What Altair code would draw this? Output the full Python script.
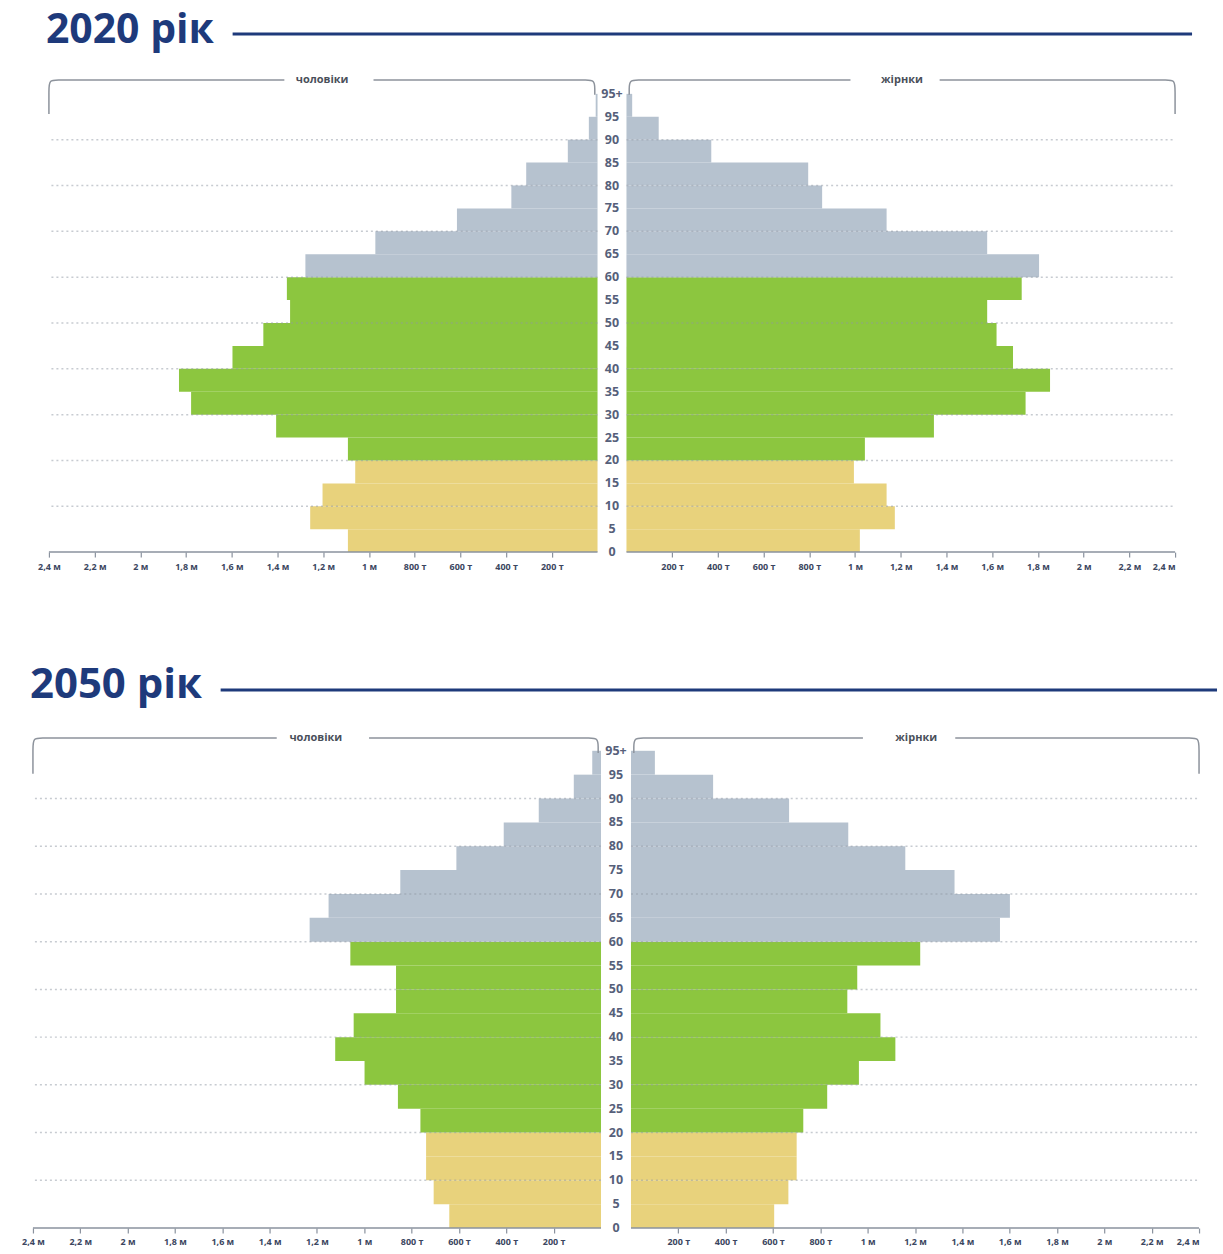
import altair as alt
import pandas as pd

# ---------------- data ----------------
age_starts = [0, 5, 10, 15, 20, 25, 30, 35, 40, 45, 50, 55, 60, 65, 70, 75, 80, 85, 90, 95]
age_label_pos = [0, 5, 10, 15, 20, 25, 30, 35, 40, 45, 50, 55, 60, 65, 70, 75, 80, 85, 90, 95, 100]
age_labels = ["0", "5", "10", "15", "20", "25", "30", "35", "40", "45", "50", "55",
              "60", "65", "70", "75", "80", "85", "90", "95", "95+"]

# population, millions (чоловіки = men, жірнки = women)
men_2020 = [1.092, 1.257, 1.203, 1.060, 1.092, 1.406, 1.778, 1.831, 1.597, 1.462,
            1.345, 1.359, 1.278, 0.972, 0.615, 0.377, 0.312, 0.130, 0.038, 0.008]
women_2020 = [1.021, 1.174, 1.138, 0.995, 1.043, 1.345, 1.746, 1.853, 1.691, 1.619,
              1.578, 1.729, 1.805, 1.578, 1.138, 0.856, 0.795, 0.371, 0.141, 0.025]
men_2050 = [0.641, 0.707, 0.739, 0.739, 0.763, 0.858, 0.999, 1.123, 1.045, 0.866,
            0.866, 1.059, 1.231, 1.151, 0.848, 0.611, 0.411, 0.263, 0.115, 0.037]
women_2050 = [0.605, 0.665, 0.700, 0.700, 0.728, 0.829, 0.963, 1.117, 1.054, 0.914,
              0.956, 1.222, 1.559, 1.601, 1.367, 1.159, 0.918, 0.668, 0.347, 0.101]

tick_values = [0.2, 0.4, 0.6, 0.8, 1.0, 1.2, 1.4, 1.6, 1.8, 2.0, 2.2, 2.4]
grid_ages = [10, 20, 30, 40, 50, 60, 70, 80, 90]
group_names = ["0-19", "20-59", "60+"]
group_colors = ["#e8d27c", "#8cc63f", "#b6c2cf"]
titles = ["2020 рік", "2050 рік"]
side_labels = ["чоловіки", "жірнки"]

NAVY = "#1e3a7b"
BRACKET = "#8d939c"
LABEL = "#3b4660"
AXIS = "#8a929e"
MAXV = 2.4
G = 0.0633  # half of the central label column, in millions

label_expr = (
    "(abs(datum.value) - {g}) >= 0.99 ? "
    "replace(format(abs(datum.value) - {g}, '.1~f'), '.', ',') + ' м' : "
    "format((abs(datum.value) - {g}) * 1000, '.0f') + ' т'"
).format(g=G)


def group_of(a):
    if a < 20:
        return group_names[0]
    if a < 60:
        return group_names[1]
    return group_names[2]


def bars_df(men, women):
    rows = []
    for sign, values in ((-1, men), (1, women)):
        for a, v in zip(age_starts, values):
            rows.append({"a0": a, "a1": a + 5, "x0": sign * G, "x1": sign * (v + G),
                         "g": group_of(a)})
    return pd.DataFrame(rows)


def bracket_df(top, low_end, px_per_m, px_per_age, gap):
    r_x = 10 / px_per_m
    r_y = 10 / px_per_age
    edge, center = MAXV + G, 0.012 + G
    center_end = top - 15 / px_per_age
    rows = []
    for sign, side in ((-1, "m"), (1, "f")):
        outer = [(edge, low_end), (edge, top - r_y), (edge, top), (edge - r_x, top),
                 (gap[1] + G, top)]
        inner = [(gap[0] + G, top), (center + r_x, top), (center, top), (center, top - r_y),
                 (center, center_end)]
        for seg, pts in (("outer", outer), ("inner", inner)):
            for i, (x, y) in enumerate(pts):
                rows.append({"x": sign * x, "y": y, "seg": side + seg, "o": i})
    return pd.DataFrame(rows)


def body(men, women, total_width, left_px, height, top, low_end):
    px_per_m = (total_width - left_px) / (2 * (MAXV + G))
    x_min = -(MAXV + G + left_px / px_per_m)
    x_max = MAXV + G
    px_per_age = height / 100
    xscale = alt.Scale(domain=[x_min, x_max], nice=False, zero=False)
    yscale = alt.Scale(domain=[0, 100], nice=False, zero=True)
    ticks = [-(t + G) for t in tick_values] + [t + G for t in tick_values]
    xaxis = alt.Axis(values=ticks, labelExpr=label_expr, title=None, grid=False,
                     domain=False, tickColor=AXIS, tickWidth=1.2, tickSize=5,
                     labelPadding=5, labelFontSize=9, labelFontWeight="bold",
                     labelColor=LABEL, labelFont="Open Sans")

    bars = alt.Chart(bars_df(men, women)).mark_rect().encode(
        x=alt.X("x1:Q", scale=xscale, axis=xaxis),
        x2="x0:Q",
        y=alt.Y("a0:Q", scale=yscale, axis=None),
        y2="a1:Q",
        color=alt.Color("g:N", scale=alt.Scale(domain=group_names, range=group_colors),
                        legend=None),
    )

    grid_rows = []
    for a in grid_ages:
        grid_rows.append({"y": a, "x0": -G, "x1": -(MAXV + G)})
        grid_rows.append({"y": a, "x0": G, "x1": MAXV + G})
    grid = alt.Chart(pd.DataFrame(grid_rows)).mark_rule(
        strokeDash=[2, 3], color="#8f98a3", strokeWidth=1.5, opacity=0.5
    ).encode(
        x=alt.X("x0:Q", scale=xscale, axis=xaxis), x2="x1:Q",
        y=alt.Y("y:Q", scale=yscale, axis=None),
    )

    axis_line = alt.Chart(pd.DataFrame({
        "x0": [-G, G], "x1": [-(MAXV + G), MAXV + G], "y": [0, 0]
    })).mark_rule(color=AXIS, strokeWidth=1.5).encode(
        x=alt.X("x0:Q", scale=xscale, axis=xaxis), x2="x1:Q",
        y=alt.Y("y:Q", scale=yscale, axis=None),
    )

    bracket = alt.Chart(bracket_df(top, low_end, px_per_m, px_per_age, (0.98, 1.37))).mark_line(
        interpolate="basis", clip=False, color=BRACKET, strokeWidth=1.5
    ).encode(
        x=alt.X("x:Q", scale=xscale, axis=xaxis),
        y=alt.Y("y:Q", scale=yscale, axis=None),
        detail="seg:N",
        order="o:Q",
    )

    side_txt = alt.Chart(pd.DataFrame({
        "x": [-(1.205 + G), 1.205 + G], "y": [top, top], "t": side_labels
    })).mark_text(
        fontSize=11, fontWeight="bold", color="#4a4f5a", font="Open Sans", clip=False,
        baseline="middle"
    ).encode(
        x=alt.X("x:Q", scale=xscale, axis=xaxis),
        y=alt.Y("y:Q", scale=yscale, axis=None),
        text="t:N",
    )

    age_txt = alt.Chart(pd.DataFrame({
        "x": [0.0] * len(age_label_pos), "y": age_label_pos, "t": age_labels
    })).mark_text(
        fontSize=12.5, fontWeight="bold", color="#56607a", font="Open Sans", baseline="middle"
    ).encode(
        x=alt.X("x:Q", scale=xscale, axis=xaxis),
        y=alt.Y("y:Q", scale=yscale, axis=None),
        text="t:N",
    )

    return alt.layer(bars, grid, axis_line, bracket, side_txt, age_txt).properties(
        width=total_width, height=height)


def header(title, height, tx, ty, fs, lx1, lx2, ly):
    df = pd.DataFrame({"t": [title]})
    text = alt.Chart(df).mark_text(
        align="left", baseline="alphabetic", fontSize=fs, fontWeight="bold",
        font="Open Sans", color=NAVY
    ).encode(x=alt.value(tx), y=alt.value(ty), text="t:N")
    line = alt.Chart(df).mark_rule(color=NAVY, strokeWidth=3).encode(
        x=alt.value(lx1), x2=alt.value(lx2), y=alt.value(ly)
    )
    return alt.layer(text, line).properties(width=1223, height=height)


h1 = header(titles[0], 92, 45, 41, 41, 232, 1193, 32)
b1 = body(men_2020, women_2020, 1176, 48, 459, 103.05, 95.6)
h2 = header(titles[1], 199, 29, 146, 42, 220, 1218, 138)
b2 = body(men_2050, women_2050, 1200, 32, 478, 102.7, 95.2)

chart = alt.vconcat(h1, b1, h2, b2, spacing=0, bounds="flush").properties(
    padding=0, background="white"
).configure_view(stroke="transparent")

chart.save("out.html", embed_options={"renderer": "svg", "actions": False})
